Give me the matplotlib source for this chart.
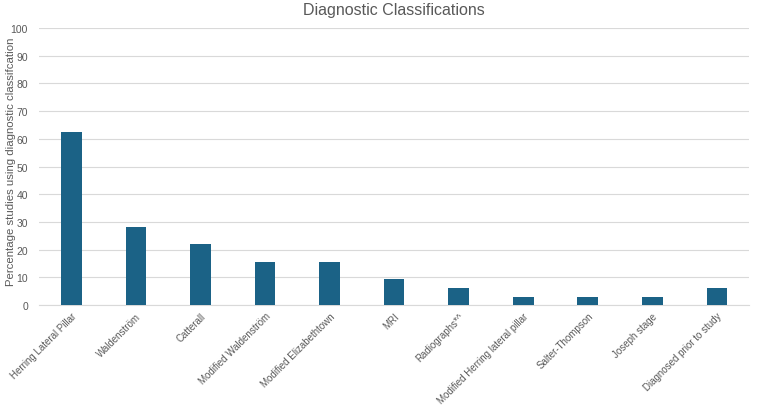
import matplotlib.pyplot as plt

plt.rcParams['font.family'] = ['Liberation Sans', 'DejaVu Sans']

categories = ['Herring Lateral Pillar', 'Waldenström', 'Catterall', 'Modified Waldenström',
              'Modified Elizabethtown', 'MRI', 'Radiographs*^', 'Modified Herring lateral pillar',
              'Salter-Thompson', 'Joseph stage', 'Diagnosed prior to study']
values = [62.5, 28.1, 21.9, 15.6, 15.6, 9.4, 6.25, 3.1, 3.1, 3.1, 6.25]
yticks = [0, 10, 20, 30, 40, 50, 60, 70, 80, 90, 100]

fig = plt.figure(figsize=(7.59, 4.06), dpi=100)
ax = fig.add_axes([0.0514, 0.246, 0.9356, 0.6826])

x = range(len(categories))
ax.bar(x, values, width=0.32, color='#1b6286', zorder=3)

ax.set_xlim(-0.5, len(categories) - 0.5)
ax.set_ylim(0, 100)
ax.set_yticks(yticks)
ax.set_xticks(list(x))
ax.set_xticklabels(categories, rotation=45, ha='right', rotation_mode='anchor', fontsize=7, color='#595959')
ax.tick_params(axis='y', labelsize=7.5, labelcolor='#595959', length=0, pad=8)
ax.tick_params(axis='x', length=0, pad=4)
ax.grid(axis='y', color='#d9d9d9', linewidth=0.8, zorder=0)
for s in ['top', 'right', 'left']:
    ax.spines[s].set_visible(False)
ax.spines['bottom'].set_color('#d9d9d9')

ax.set_ylabel('Percentage studies using diagnostic classifcation', fontsize=8.2, color='#595959')
ax.yaxis.set_label_coords(-0.033, 0.52)
ax.set_title('Diagnostic Classifications', fontsize=11.5, color='#595959', pad=10)

fig.savefig('out.png', dpi=100)
